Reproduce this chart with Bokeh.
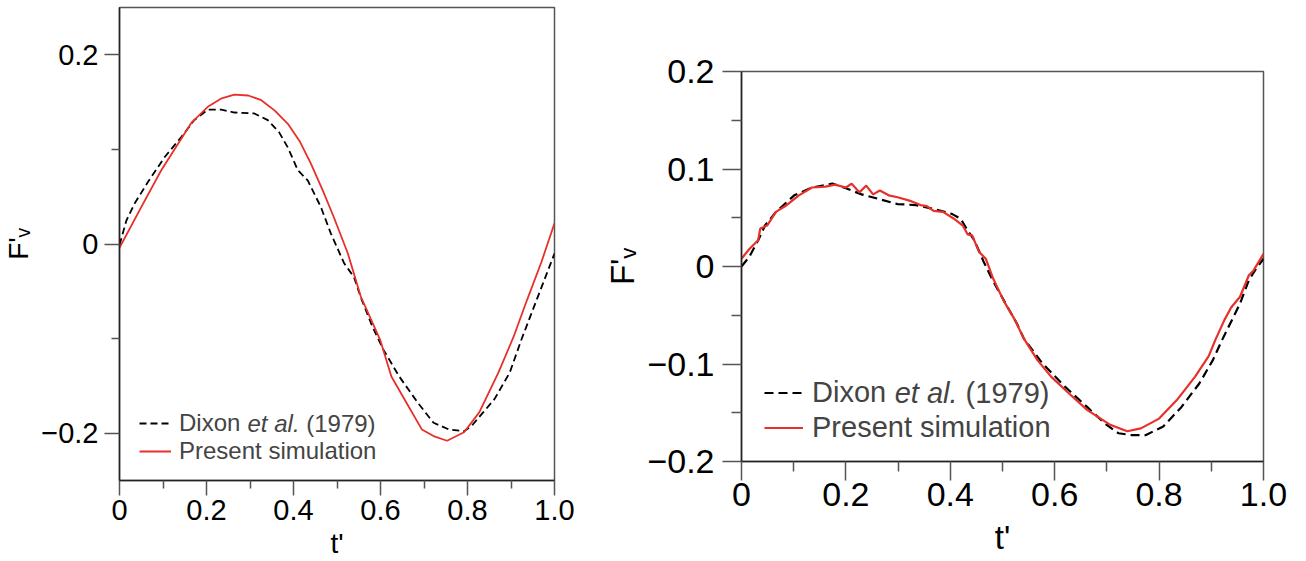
from bokeh.plotting import figure
from bokeh.layouts import row, column
from bokeh.models import (Range1d, FixedTicker, CustomJSTickFormatter, Legend,
                          LegendItem, Label)
from bokeh.embed import file_html
from bokeh.resources import INLINE

# ---------------- data ----------------
# Left panel
t_dix_L = [0, 0.016, 0.035, 0.066, 0.104, 0.142, 0.172, 0.203, 0.234, 0.264, 0.31,
           0.341, 0.367, 0.387, 0.41, 0.433, 0.463, 0.486, 0.516, 0.539, 0.556,
           0.581, 0.607, 0.643, 0.686, 0.722, 0.757, 0.792, 0.81, 0.836, 0.862,
           0.897, 0.924, 0.959, 1.0]
F_dix_L = [-0.001, 0.025, 0.043, 0.066, 0.092, 0.113, 0.131, 0.142, 0.142, 0.139,
           0.138, 0.131, 0.118, 0.102, 0.078, 0.067, 0.039, 0.011, -0.020, -0.035,
           -0.058, -0.087, -0.112, -0.140, -0.168, -0.189, -0.196, -0.198, -0.192,
           -0.178, -0.164, -0.136, -0.101, -0.059, -0.010]

t_sim_L = [0, 0.05, 0.096, 0.165, 0.203, 0.235, 0.264, 0.296, 0.326, 0.357, 0.387,
           0.415, 0.44, 0.467, 0.493, 0.525, 0.555, 0.599, 0.625, 0.66, 0.695,
           0.722, 0.753, 0.792, 0.827, 0.871, 0.906, 0.937, 0.97, 1.0]
F_sim_L = [-0.004, 0.039, 0.078, 0.128, 0.145, 0.154, 0.158, 0.157, 0.152, 0.141,
           0.127, 0.108, 0.085, 0.057, 0.028, -0.010, -0.056, -0.101, -0.140,
           -0.168, -0.196, -0.203, -0.208, -0.199, -0.178, -0.136, -0.098, -0.059,
           -0.019, 0.022]

# Right panel
t_dix_R = [0, 0.015, 0.032, 0.045, 0.066, 0.101, 0.135, 0.174, 0.196, 0.23, 0.265,
           0.299, 0.334, 0.368, 0.403, 0.42, 0.433, 0.446, 0.463, 0.481, 0.506,
           0.528, 0.541, 0.576, 0.619, 0.662, 0.696, 0.722, 0.748, 0.774, 0.808,
           0.843, 0.877, 0.903, 0.921, 0.955, 0.972, 0.985, 1.0]
F_dix_R = [0.0, 0.01, 0.027, 0.042, 0.056, 0.073, 0.081, 0.085, 0.081, 0.074, 0.069,
           0.064, 0.063, 0.059, 0.054, 0.049, 0.037, 0.027, 0.006, -0.014, -0.038,
           -0.059, -0.074, -0.099, -0.123, -0.144, -0.161, -0.171, -0.173, -0.173,
           -0.164, -0.144, -0.120, -0.096, -0.075, -0.038, -0.014, -0.003, 0.008]

t_sim_R = [0, 0.015, 0.032, 0.036, 0.049, 0.066, 0.084, 0.11, 0.135, 0.161, 0.179,
           0.2, 0.211, 0.226, 0.239, 0.252, 0.265, 0.282, 0.299, 0.325, 0.343,
           0.355, 0.368, 0.386, 0.407, 0.424, 0.433, 0.442, 0.455, 0.468, 0.481,
           0.502, 0.524, 0.541, 0.567, 0.593, 0.627, 0.662, 0.705, 0.739, 0.765,
           0.8, 0.834, 0.869, 0.895, 0.908, 0.925, 0.938, 0.955, 0.972, 0.981, 1.0]
F_sim_R = [0.008, 0.018, 0.027, 0.039, 0.042, 0.056, 0.062, 0.073, 0.081, 0.082,
           0.084, 0.081, 0.085, 0.076, 0.083, 0.074, 0.078, 0.073, 0.071, 0.067,
           0.063, 0.062, 0.057, 0.056, 0.049, 0.042, 0.033, 0.032, 0.015, 0.008,
           -0.011, -0.035, -0.055, -0.074, -0.096, -0.113, -0.130, -0.147, -0.162,
           -0.169, -0.166, -0.156, -0.137, -0.113, -0.092, -0.075, -0.055, -0.042,
           -0.031, -0.009, -0.004, 0.013]

x_ticks = [0, 0.2, 0.4, 0.6, 0.8, 1.0]
x_minor = [0.1, 0.3, 0.5, 0.7, 0.9]
yL_ticks = [-0.2, 0, 0.2]
yL_minor = [-0.1, 0.1]
yR_ticks = [-0.2, -0.1, 0, 0.1, 0.2]
yR_minor = [-0.15, -0.05, 0.05, 0.15]

x_label = "t'"
y_label = "F'\u1d65"

legend_dixon = "Dixon"
legend_etal = "et al."
legend_year = "(1979)"
legend_sim = "Present simulation"

FONT = "Liberation Sans"
RED = "#e8302a"

fmt_code = """
if (Math.abs(tick) < 1e-9) { return "0"; }
const s = Math.abs(tick).toFixed(1);
return tick < 0 ? "\u2212" + s : s;
"""


def style_axes(p, tick_font, lab_font, g):
    for ax in (p.xaxis[0], p.yaxis[0]):
        ax.formatter = CustomJSTickFormatter(code=fmt_code)
        ax.major_label_text_font = FONT
        ax.major_label_text_font_size = tick_font
        ax.major_label_text_color = "black"
        ax.axis_label_text_font = FONT
        ax.axis_label_text_font_size = lab_font
        ax.axis_label_text_font_style = "normal"
        ax.axis_label_text_color = "black"
        ax.axis_line_color = "#222222"
        ax.axis_line_width = 1.5
        ax.major_tick_line_color = "#555555"
        ax.minor_tick_line_color = "#555555"
        ax.major_tick_line_width = 1.5
        ax.minor_tick_line_width = 1.5
        ax.major_tick_in = 0
        ax.major_tick_out = g["maj"]
        ax.minor_tick_in = 0
        ax.minor_tick_out = g["mnr"]
    p.xaxis[0].major_label_standoff = g["sx"]
    p.yaxis[0].major_label_standoff = g["sy"]
    p.xaxis[0].axis_label = x_label
    p.yaxis[0].axis_label = y_label
    p.xaxis[0].axis_label_standoff = g["lx"]
    p.yaxis[0].axis_label_standoff = g["ly"]
    p.xgrid.visible = False
    p.ygrid.visible = False


def make_panel(width, height, borders, yrange, yt, ym, data, fonts, g):
    bl, br, bt, bb = borders
    p = figure(width=width, height=height, output_backend="svg",
               toolbar_location=None, x_range=Range1d(0, 1),
               y_range=Range1d(*yrange), min_border_left=bl,
               min_border_right=br, min_border_top=bt, min_border_bottom=bb)
    p.background_fill_color = "white"
    p.border_fill_color = "white"
    p.outline_line_color = "#555555"
    p.outline_line_width = 1.5
    p.xaxis.ticker = FixedTicker(ticks=x_ticks, minor_ticks=x_minor)
    p.yaxis.ticker = FixedTicker(ticks=yt, minor_ticks=ym)
    tick_font, leg_font, lab_font = fonts
    style_axes(p, tick_font, lab_font, g)

    td, fd, ts, fs = data
    lw = g["lw"]
    r_d = p.line(td, fd, line_color="black", line_width=lw, line_dash=g["dash"])
    r_s = p.line(ts, fs, line_color=RED, line_width=lw)

    leg = Legend(items=[LegendItem(label=legend_dixon, renderers=[r_d]),
                        LegendItem(label=legend_sim, renderers=[r_s])],
                 location=g["leg_loc"], padding=0, margin=0, spacing=0,
                 glyph_width=g["gw"], glyph_height=g["lh"],
                 label_height=g["lh"], label_standoff=g["ls"],
                 label_text_font=FONT, label_text_font_size=leg_font,
                 border_line_alpha=0, background_fill_alpha=0)
    p.add_layout(leg, "center")

    # italic part of the first legend entry
    lx, ly = g["leg_text"]
    fpx = float(leg_font.replace("px", ""))
    w_dixon = 2.834 * fpx
    w_etal = 2.168 * fpx
    w_sp = 0.278 * fpx
    p.add_layout(Label(x=lx + w_dixon, y=ly, x_units="screen", y_units="screen",
                       text=legend_etal, text_font=FONT, text_font_size=leg_font,
                       text_font_style="italic", text_baseline="middle",
                       text_align="left"))
    p.add_layout(Label(x=lx + w_dixon + w_etal + w_sp, y=ly, x_units="screen",
                       y_units="screen", text=legend_year, text_font=FONT,
                       text_font_size=leg_font, text_baseline="middle",
                       text_align="left"))
    return p


pL = make_panel(
    588, 561, (118, 34, 7, 80), (-0.25, 0.25), yL_ticks, yL_minor,
    (t_dix_L, F_dix_L, t_sim_L, F_sim_L),
    ("29px", "24px", "28px"),
    dict(maj=15, mnr=8, sx=4, sy=6, lx=5, ly=4, lw=1.8, dash="7 4",
         leg_loc=(20, 15), gw=32, lh=28, ls=8, leg_text=(60, 57)))

pR = make_panel(
    718, 561, (153, 43, 71, 100), (-0.2, 0.2), yR_ticks, yR_minor,
    (t_dix_R, F_dix_R, t_sim_R, F_sim_R),
    ("34px", "29px", "33px"),
    dict(maj=19, mnr=10, sx=2, sy=8, lx=10, ly=3, lw=2.2, dash="9 5",
         leg_loc=(23, 16), gw=39, lh=35, ls=9, leg_text=(71, 69)))

layout = row(column(pL), column(pR))
open("out.html", "w", encoding="utf-8").write(file_html(layout, INLINE))
